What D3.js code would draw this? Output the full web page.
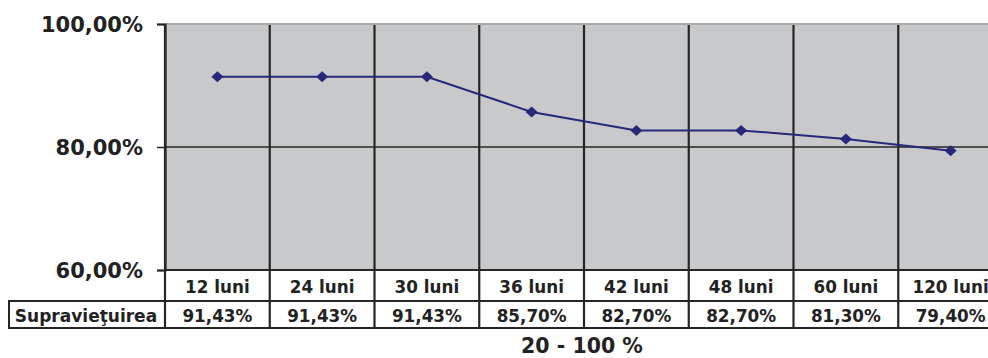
<!DOCTYPE html>
<html>
<head>
<meta charset="utf-8">
<script src="https://cdn.jsdelivr.net/npm/d3@7"></script>
<style>
  html, body { margin: 0; padding: 0; background: #fff; }
  svg { display: block; font-family: "DejaVu Sans", "Liberation Sans", Arial, sans-serif; font-weight: bold; }
</style>
</head>
<body>
<svg id="chart" width="988" height="358"></svg>
<script>
// Survival over time
const categories = ["12 luni", "24 luni", "30 luni", "36 luni", "42 luni", "48 luni", "60 luni", "120 luni"];
const survival = [91.43, 91.43, 91.43, 85.70, 82.70, 82.70, 81.30, 79.40];
const yTicks = [60, 80, 100];
const rowLabel = "Supravieţuirea";
const footer = "20 - 100 %";

const fmt = v => v.toFixed(2).replace(".", ",") + "%";

const svg = d3.select("#chart");
const plotLeft = 165, plotRight = 1003, plotTop = 24, plotBottom = 270;
const row1 = 301, row2 = 328;
const ink = "#222", rule = "#262626", series = "#28287a";

const x = d3.scaleBand().domain(categories).range([plotLeft, plotRight]).padding(0);
const y = d3.scaleLinear().domain([60, 100]).range([plotBottom, plotTop]);

// plot background
svg.append("rect").attr("x", plotLeft).attr("y", plotTop)
  .attr("width", plotRight - plotLeft).attr("height", plotBottom - plotTop)
  .attr("fill", "#c8c9cb");
svg.append("line").attr("x1", plotLeft).attr("x2", plotRight).attr("y1", plotTop).attr("y2", plotTop)
  .attr("stroke", "#a9a9a9").attr("stroke-width", 2);

// horizontal gridline(s)
svg.selectAll(".hgrid").data(yTicks.filter(t => t > 60 && t < 100)).join("line")
  .attr("x1", plotLeft).attr("x2", plotRight)
  .attr("y1", d => y(d)).attr("y2", d => y(d))
  .attr("stroke", rule).attr("stroke-width", 1.5);

// vertical gridlines through plot and table
const bounds = categories.map(c => x(c)).concat([plotRight]);
svg.selectAll(".vgrid").data(bounds).join("line")
  .attr("x1", d => d).attr("x2", d => d)
  .attr("y1", plotTop + 1).attr("y2", row2)
  .attr("stroke", rule).attr("stroke-width", 2.2);

// y axis
const yAxis = svg.append("g").attr("transform", `translate(${plotLeft},0)`)
  .call(d3.axisLeft(y).tickValues(yTicks).tickSize(8).tickFormat(fmt));
yAxis.select(".domain").attr("stroke", rule).attr("stroke-width", 2.2);
yAxis.selectAll(".tick line").attr("stroke", rule).attr("stroke-width", 1.5);
yAxis.selectAll(".tick text")
  .attr("x", -22).attr("dy", "0.36em")
  .attr("font-size", 21).attr("font-weight", "bold").attr("fill", ink)
  .attr("font-family", "DejaVu Sans, Liberation Sans, Arial, sans-serif");

// table lines
svg.append("line").attr("x1", plotLeft).attr("x2", plotRight).attr("y1", plotBottom).attr("y2", plotBottom)
  .attr("stroke", rule).attr("stroke-width", 2);
[row1, row2].forEach(r => svg.append("line").attr("x1", 8).attr("x2", plotRight)
  .attr("y1", r).attr("y2", r).attr("stroke", rule).attr("stroke-width", 2));
svg.append("line").attr("x1", 9).attr("x2", 9).attr("y1", row1).attr("y2", row2)
  .attr("stroke", rule).attr("stroke-width", 2);

// category labels
svg.selectAll(".cat").data(categories).join("text")
  .attr("x", d => x(d) + x.bandwidth() / 2).attr("y", 286.5)
  .attr("dy", "0.36em").attr("text-anchor", "middle")
  .attr("font-size", 16.8).attr("fill", ink).text(d => d);

// value row
svg.append("text").attr("x", 86).attr("y", 316).attr("dy", "0.36em")
  .attr("text-anchor", "middle").attr("font-size", 17).attr("fill", ink).text(rowLabel);
svg.selectAll(".val").data(survival).join("text")
  .attr("x", (d, i) => x(categories[i]) + x.bandwidth() / 2).attr("y", 316)
  .attr("dy", "0.36em").attr("text-anchor", "middle")
  .attr("font-size", 16.8).attr("fill", ink).text(d => fmt(d));

// series line and markers
const cx = (d, i) => x(categories[i]) + x.bandwidth() / 2;
svg.append("path").datum(survival)
  .attr("d", d3.line().x(cx).y(d => y(d)))
  .attr("fill", "none").attr("stroke", series).attr("stroke-width", 2);
svg.selectAll(".pt").data(survival).join("path")
  .attr("transform", (d, i) => `translate(${cx(d, i)},${y(d)})`)
  .attr("d", "M-6,0L0,-5.5L6,0L0,5.5Z")
  .attr("fill", series);

// footer
svg.append("text").attr("x", 582).attr("y", 353).attr("text-anchor", "middle")
  .attr("font-size", 20.5).attr("fill", ink).text(footer);
</script>
</body>
</html>
